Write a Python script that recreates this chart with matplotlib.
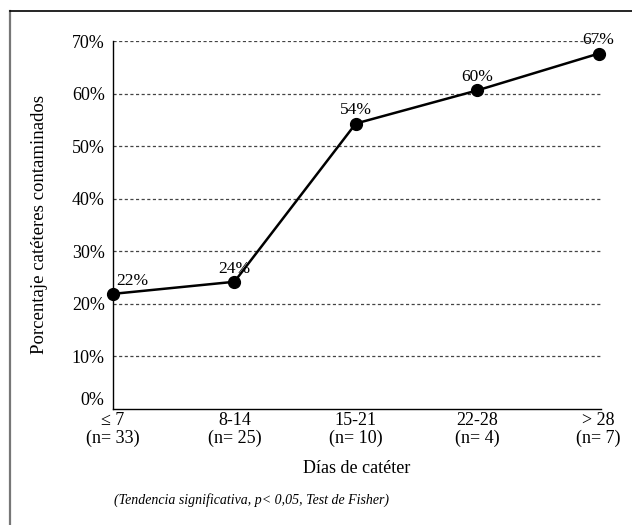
import matplotlib
matplotlib.use("Agg")
import matplotlib.pyplot as plt
from matplotlib.lines import Line2D

plt.rcParams['font.family'] = ['Liberation Serif', 'DejaVu Serif']

# Data
categories = ["\u2264 7\n(n= 33)", "8-14\n(n= 25)", "15-21\n(n= 10)", "22-28\n(n= 4)", "> 28\n(n= 7)"]
values = [21.9, 24.2, 54.3, 60.6, 67.6]
value_labels = ["22%", "24%", "54%", "60%", "67%"]
yticks = [0, 10, 20, 30, 40, 50, 60, 70]

fig = plt.figure(figsize=(6.32, 5.25), dpi=100)
ax = fig.add_axes([113 / 632, 1 - 409 / 525, (601 - 113) / 632, (409 - 41) / 525])

x = list(range(len(categories)))
ax.plot(x, values, color='black', lw=1.8, marker='o', markersize=8.5, clip_on=False, zorder=3)

for i, (v, lab) in enumerate(zip(values, value_labels)):
    dx = 0.16 if i == 0 else 0
    ax.text(i + dx, v + 1.0, lab, ha='center', va='bottom', fontsize=12.5)

ax.set_xlim(0, 4.02)
ax.set_ylim(0, 70)
ax.set_yticks(yticks)
ax.set_yticklabels([f"{t}%" for t in yticks], fontsize=13)
ax.set_xticks(x)
ax.set_xticklabels(categories, fontsize=13, linespacing=1.1)
ax.tick_params(axis='both', length=0)
ax.tick_params(axis='y', pad=6)
ax.tick_params(axis='x', pad=2)
for t in ax.get_yticklabels()[:1]:
    t.set_va('bottom')

for t in yticks[1:]:
    ax.axhline(t, color='#444444', lw=0.9, ls=(0, (2.5, 2)), zorder=1)

ax.spines['top'].set_visible(False)
ax.spines['right'].set_visible(False)
ax.spines['left'].set_linewidth(1.0)
ax.spines['bottom'].set_linewidth(1.0)

ax.set_xlabel("Días de catéter", fontsize=13, labelpad=9)
ax.set_ylabel("Porcentaje catéteres contaminados", fontsize=13.5, labelpad=17)

fig.text(252 / 632, 1 - 500 / 525, "(Tendencia significativa, p< 0,05, Test de Fisher)",
         ha='center', va='center', fontsize=10, style='italic')

# partial frame around the figure
fig.add_artist(Line2D([10 / 632, 10 / 632], [0, 1 - 11 / 525], transform=fig.transFigure,
                      color='#777777', lw=1.6))
fig.add_artist(Line2D([10 / 632, 1], [1 - 11 / 525, 1 - 11 / 525], transform=fig.transFigure,
                      color='black', lw=1.2))

fig.savefig("out.png", dpi=100)
